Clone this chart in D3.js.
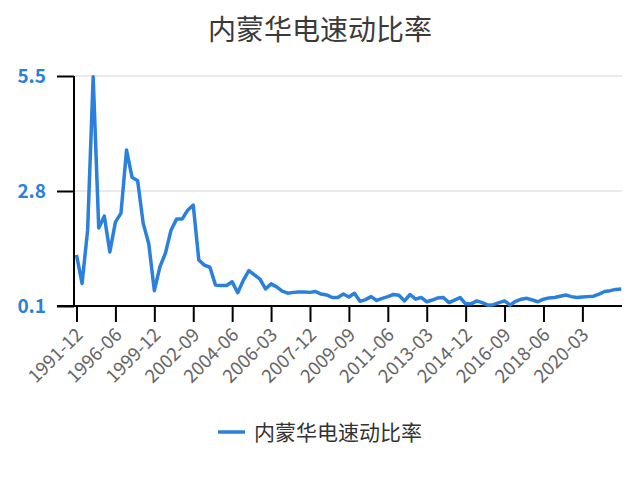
<!DOCTYPE html>
<html><head><meta charset="utf-8">
<script src="https://cdn.jsdelivr.net/npm/d3@7"></script>
<style>body{margin:0;background:#fff;}svg{display:block;}text{font-family:"Noto Sans CJK SC","Noto Sans",sans-serif;}</style>
</head><body>
<svg id="c" width="640" height="477"></svg>
<script>
const title = "内蒙华电速动比率";
const seriesName = "内蒙华电速动比率";
const earlyDates = ["1991-12","1992-12","1993-12","1994-06","1994-12","1995-06","1995-12","1996-06","1996-12","1997-06","1997-12","1998-06","1998-12","1999-06","1999-12","2000-06","2000-12","2001-06","2001-12","2002-03","2002-06"];
const quarterStart = 2002, quarterEnd = 2021;
const values = [1.30,0.63,1.88,5.48,1.93,2.21,1.37,2.07,2.28,3.76,3.12,3.04,2.04,1.56,0.46,1.02,1.34,1.88,2.14,2.14,2.35,
 2.47,1.18,1.06,1.01,0.59,0.58,0.58,0.67,0.41,0.70,0.93,0.83,0.73,0.50,0.62,0.55,0.45,0.40,0.42,0.43,
 0.43,0.42,0.44,0.38,0.36,0.30,0.30,0.38,0.31,0.40,0.21,0.25,0.32,0.23,0.28,0.32,0.37,0.35,0.22,0.37,
 0.26,0.30,0.20,0.24,0.29,0.30,0.18,0.24,0.30,0.15,0.15,0.22,0.18,0.12,0.13,0.18,0.22,0.12,0.21,0.26,
 0.28,0.24,0.20,0.26,0.29,0.30,0.33,0.36,0.32,0.30,0.31,0.32,0.33,0.38,0.44,0.46,0.49,0.50];
const yTicks = [0.1, 2.8, 5.5];
const xLabelEvery = 7;

const dates = earlyDates.slice();
for (let yr = quarterStart; yr <= quarterEnd; yr++) {
  for (const m of ["03","06","09","12"]) {
    if (yr === 2002 && (m === "03" || m === "06")) continue;
    dates.push(yr + "-" + m);
  }
}
const data = dates.map((d, i) => ({d, v: values[i]}));

const svg = d3.select("#c");
const pLeft = 76.5, pRight = 621.3, pTop = 76, pBottom = 306;
const x = d3.scalePoint().domain(dates).range([pLeft, pRight]);
const y = d3.scaleLinear().domain([0.1, 5.5]).range([pBottom, pTop]);

svg.append("text").attr("x", 320).attr("y", 40).attr("text-anchor", "middle")
  .attr("font-size", 28).attr("fill", "#3a3a3a").text(title);

// grid
svg.append("g").selectAll("line").data(yTicks.slice(1)).join("line")
  .attr("x1", 74).attr("x2", 622).attr("y1", d => y(d)).attr("y2", d => y(d))
  .attr("stroke", "#e3e3e3").attr("stroke-width", 1.5);

// y axis
const ya = svg.append("g").attr("transform", "translate(74,0)")
  .call(d3.axisLeft(y).tickValues(yTicks).tickSize(17).tickFormat(d3.format(".1f")));
ya.select(".domain").attr("stroke", "#000").attr("stroke-width", 2).attr("d", `M0,${pTop}V${pBottom}`);
ya.selectAll(".tick line").attr("stroke", "#000").attr("stroke-width", 2);
ya.selectAll(".tick text").attr("font-size", 19).attr("font-weight", "bold")
  .attr("fill", "#2a80db").attr("font-family", "Roboto, 'Noto Sans', sans-serif").attr("dx", -8);

// x axis
const xTickVals = dates.filter((d, i) => i % xLabelEvery === 0 && i <= 91);
const xa = svg.append("g").attr("transform", `translate(0,${pBottom})`)
  .call(d3.axisBottom(x).tickValues(xTickVals).tickSize(16));
xa.select(".domain").attr("stroke", "#000").attr("stroke-width", 2).attr("d", `M57,0H622`);
xa.selectAll(".tick line").attr("stroke", "#000").attr("stroke-width", 2);
xa.selectAll(".tick text").attr("font-size", 18.5).attr("fill", "#666")
  .attr("font-family", "'Liberation Sans', Arial, sans-serif")
  .attr("text-anchor", "end").attr("dy", 0).attr("y", 0)
  .attr("transform", "translate(7,30) rotate(-45)");

// line
svg.append("path").datum(data)
  .attr("fill", "none").attr("stroke", "#2a80db").attr("stroke-width", 3.5)
  .attr("stroke-linejoin", "round")
  .attr("d", d3.line().x(d => x(d.d)).y(d => y(d.v)));

// legend
svg.append("line").attr("x1", 218).attr("x2", 245).attr("y1", 432).attr("y2", 432)
  .attr("stroke", "#2a80db").attr("stroke-width", 3.5);
svg.append("text").attr("x", 254).attr("y", 440).attr("font-size", 21).attr("fill", "#333").text(seriesName);
</script>
</body></html>
